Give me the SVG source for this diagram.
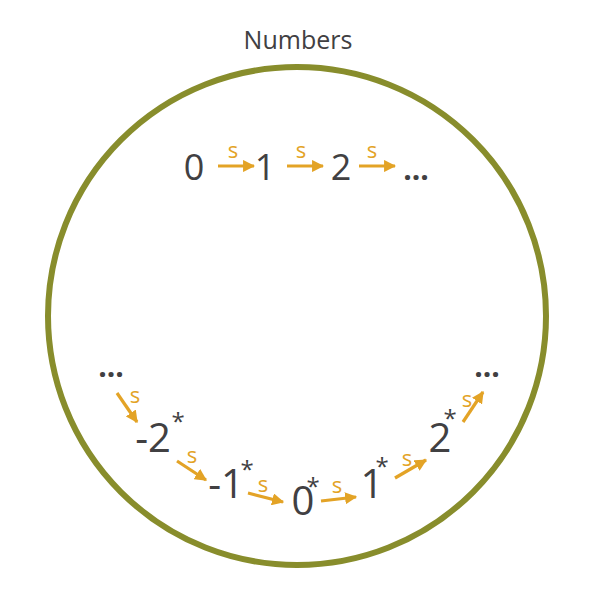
<svg xmlns="http://www.w3.org/2000/svg" width="602" height="602" viewBox="0 0 602 602">
<defs>
<marker id="ah" viewBox="0 0 10 10" refX="9" refY="5" markerWidth="3.8" markerHeight="3.8" orient="auto" markerUnits="strokeWidth">
<path d="M0,0 L10,5 L0,10 Z" fill="#e3a326"/>
</marker>
<style>
.n{font-family:"Open Sans","Noto Sans",sans-serif;font-size:36px;fill:#414042;text-anchor:middle}
.b{font-family:"Open Sans","Noto Sans",sans-serif;font-size:40px;fill:#414042;text-anchor:middle}
.st{font-family:"Open Sans","Noto Sans",sans-serif;font-size:24px;fill:#414042;text-anchor:middle}
.s{font-family:"Open Sans","Noto Sans",sans-serif;font-size:22px;fill:#e3a326;text-anchor:middle}
.d{font-family:"Open Sans","Noto Sans",sans-serif;font-size:30px;font-weight:bold;fill:#414042;text-anchor:middle}
.a{stroke:#e3a326;stroke-width:3.2;fill:none;marker-end:url(#ah)}
.t{font-family:"Open Sans","Noto Sans",sans-serif;font-size:25px;fill:#414042;text-anchor:middle}
</style>
</defs>
<rect width="602" height="602" fill="#fff"/>
<g id="set">
<circle cx="297" cy="316" r="249" fill="none" stroke="#888d2c" stroke-width="6"/>
<text class="t" x="298" y="49">Numbers</text>
</g>
<g id="n0"><text class="n" x="194" y="180">0</text></g>
<g id="n1"><text class="n" x="265" y="180">1</text></g>
<g id="n2"><text class="n" x="341" y="180">2</text></g>
<g id="ntop"><text class="d" x="416" y="180">...</text></g>
<g id="ndots"><text class="d" x="111" y="377">...</text></g>
<g id="m2"><text class="b" x="153" y="452">-2</text><text class="st" x="178" y="430">*</text></g>
<g id="m1"><text class="b" x="226" y="498">-1</text><text class="st" x="247" y="478">*</text></g>
<g id="z0"><text class="b" x="303" y="515">0</text><text class="st" x="313" y="495">*</text></g>
<g id="p1"><text class="b" x="372" y="498">1</text><text class="st" x="382" y="475">*</text></g>
<g id="p2"><text class="b" x="440" y="452">2</text><text class="st" x="450" y="427">*</text></g>
<g id="pdots"><text class="d" x="487" y="377">...</text></g>
<g id="connectors">
<line class="a" x1="218" y1="166" x2="254" y2="166"/>
<line class="a" x1="287" y1="166" x2="323" y2="166"/>
<line class="a" x1="359" y1="166" x2="395" y2="166"/>
<line class="a" x1="117" y1="393" x2="137" y2="422"/>
<line class="a" x1="177" y1="461" x2="206" y2="480"/>
<line class="a" x1="248" y1="493" x2="283" y2="502"/>
<line class="a" x1="321" y1="501" x2="356" y2="497"/>
<line class="a" x1="395" y1="478" x2="426" y2="460"/>
<line class="a" x1="463" y1="422" x2="483" y2="392"/>
<text class="s" x="233" y="158">s</text>
<text class="s" x="301" y="158">s</text>
<text class="s" x="372" y="158">s</text>
<text class="s" x="135" y="403">s</text>
<text class="s" x="192" y="463">s</text>
<text class="s" x="263" y="492">s</text>
<text class="s" x="337" y="493">s</text>
<text class="s" x="407" y="466">s</text>
<text class="s" x="467" y="407">s</text>
</g>
</svg>
